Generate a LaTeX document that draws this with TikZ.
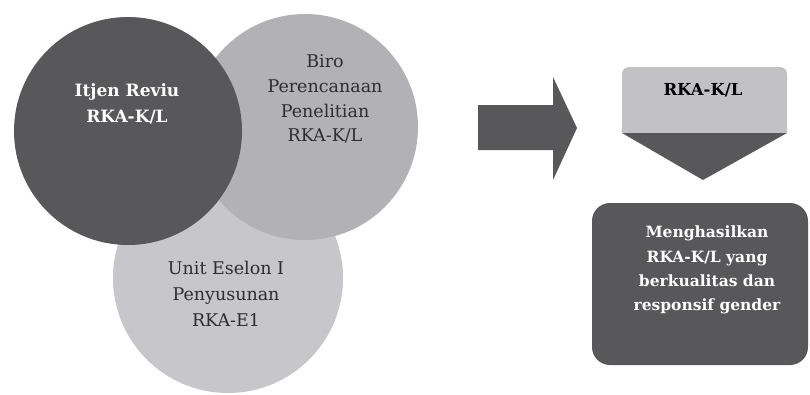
\documentclass[tikz,border=0pt]{standalone}
\usepackage{fontspec}
\setmainfont{DejaVu Serif}
\definecolor{darkc}{HTML}{58585A}
\definecolor{biroc}{HTML}{B2B2B6}
\definecolor{unitc}{HTML}{C6C6CB}
\definecolor{boxlight}{HTML}{C2C2C6}
\definecolor{txtd}{HTML}{2E2E2E}
\begin{document}
\begin{tikzpicture}[x=1pt,y=-1pt,
  circ/.style={circle, inner sep=0pt, draw=none},
  lbl/.style={align=center, inner sep=0pt}]
\useasboundingbox[fill=white] (0,0) rectangle (810,394);
% circles
\node[circ, fill=unitc, minimum size=230pt] (unit) at (228,278) {};
\node[circ, fill=biroc, minimum size=226pt] (biro) at (305,127) {};
\node[circ, fill=darkc, minimum size=228pt] (itjen) at (128,131) {};
\node[lbl, text=white, font=\bfseries\fontsize{17}{26.5}\selectfont] (titjen) at (127,104) {Itjen Reviu\\RKA-K/L};
\node[lbl, text=txtd, font=\fontsize{17.5}{24.8}\selectfont] (tbiro) at (325,99) {Biro\\Perencanaan\\Penelitian\\RKA-K/L};
\node[lbl, text=txtd, font=\fontsize{17.5}{26}\selectfont] (tunit) at (226,294) {Unit Eselon I\\Penyusunan\\RKA-E1};
% big arrow
\fill[darkc] (478,105) -- (553,105) -- (553,77) -- (577,128) -- (553,180) -- (553,150) -- (478,150) -- cycle;
% RKA-K/L chevron
\fill[boxlight, rounded corners=7pt] (622,133) -- (622,67) -- (787,67) -- (787,133);
\fill[boxlight] (622,120) rectangle (787,133);
\fill[darkc] (622,133) -- (787,133) -- (703,180) -- cycle;
\node[lbl, text=black, font=\bfseries\fontsize{16.5}{24}\selectfont] (trka) at (703,90) {RKA-K/L};
% result box
\node[draw=none, fill=darkc, rounded corners=18pt, minimum width=216pt, minimum height=162pt, inner sep=0pt] (res) at (700,284) {};
\node[lbl, text=white, font=\bfseries\fontsize{15.5}{24.3}\selectfont] (tres) at (707,270) {Menghasilkan\\RKA-K/L yang\\berkualitas dan\\responsif gender};
\end{tikzpicture}
\end{document}
